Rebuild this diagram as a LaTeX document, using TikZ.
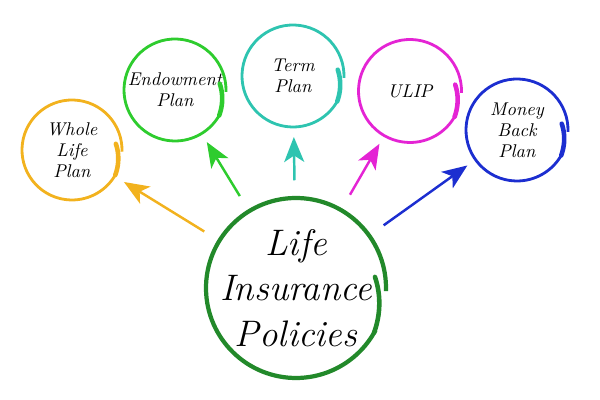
\documentclass[tikz,border=0pt]{standalone}
\usepackage{tikz}
\usetikzlibrary{arrows.meta}

\definecolor{wholecol}{HTML}{F2B21E}
\definecolor{endowcol}{HTML}{2ECC2E}
\definecolor{termcol}{HTML}{2EC4B0}
\definecolor{ulipcol}{HTML}{E424D4}
\definecolor{moneycol}{HTML}{1C2ED0}
\definecolor{lifecol}{HTML}{22892A}

\begin{document}
\begin{tikzpicture}[
  plan/.style={circle, minimum size=2cm, inner sep=0pt, outer sep=0.22cm, align=center,
    font=\fontsize{10.5}{12}\selectfont\itshape},
  mainplan/.style={circle, minimum size=3.6cm, inner sep=0pt, outer sep=0.24cm, align=center,
    font=\fontsize{21}{26}\selectfont\itshape},
  ring/.style={line width=1.6pt},
  tail/.style={line width=2.6pt, line cap=round},
  link/.style={line width=1.4pt, -{Stealth[length=5mm,width=4mm,inset=1.3mm]}}
]
\useasboundingbox (0,0) rectangle (12,8);

\node[mainplan] (life) at (5.92,2.24) {Life\\Insurance\\Policies};

\node[plan] (whole) at (1.44,5.0) {Whole\\Life\\Plan};
\node[plan] (endow) at (3.5,6.2) {Endowment\\Plan};
\node[plan] (term) at (5.86,6.48) {Term\\Plan};
\node[plan] (ulip) at (8.2,6.18) {ULIP};
\node[plan] (money) at (10.34,5.4) {Money\\Back\\Plan};

% rings round the nodes
\foreach \n/\c/\r/\w in {whole/wholecol/1.0/1.6pt, endow/endowcol/1.02/1.6pt, term/termcol/1.02/1.6pt,
    ulip/ulipcol/1.03/1.6pt, money/moneycol/1.02/1.6pt, life/lifecol/1.8/2.4pt} {
  \begin{scope}[shift={(\n.center)}, \c]
    \draw[ring, line width=\w] (-2:\r) arc[start angle=-2, end angle=332, radius=\r];
    \draw[tail] plot[domain=-30:8, samples=20] (\x:{\r*(1-0.003*(\x+30))});
  \end{scope}
}

\draw[link, wholecol] (life) -- (whole);
\draw[link, endowcol] (life) -- (endow);
\draw[link, termcol] (life) -- (term);
\draw[link, ulipcol] (life) -- (ulip);
\draw[link, moneycol] (life) -- (money);

\end{tikzpicture}
\end{document}
